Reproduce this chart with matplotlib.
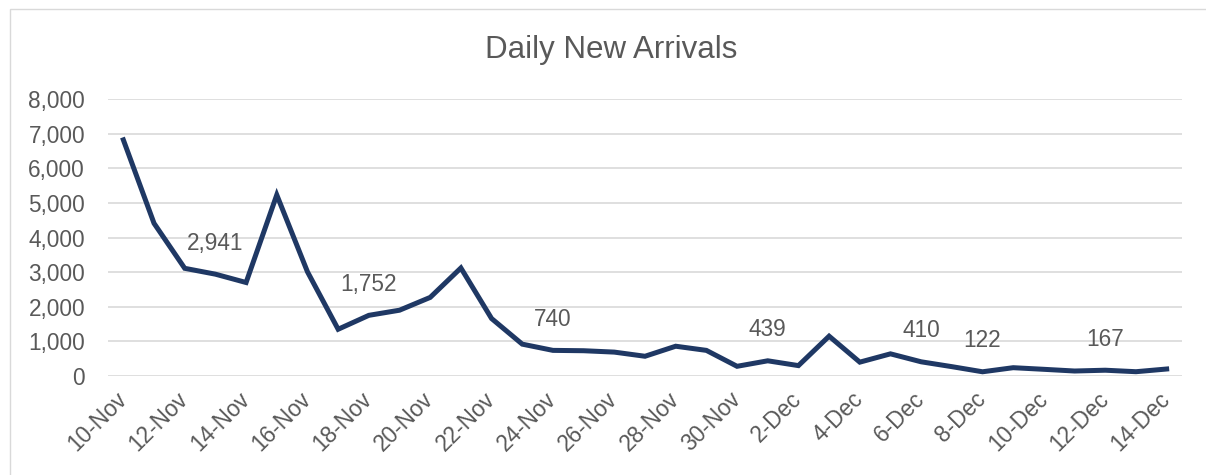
import matplotlib
matplotlib.use("Agg")
import matplotlib.pyplot as plt
import matplotlib.transforms as mtransforms
from matplotlib.patches import Rectangle
from matplotlib.ticker import FuncFormatter

plt.rcParams['font.family'] = ['Liberation Sans', 'DejaVu Sans']

# daily values, 10-Nov .. 14-Dec
dates = ["10-Nov", "11-Nov", "12-Nov", "13-Nov", "14-Nov", "15-Nov", "16-Nov",
         "17-Nov", "18-Nov", "19-Nov", "20-Nov", "21-Nov", "22-Nov", "23-Nov",
         "24-Nov", "25-Nov", "26-Nov", "27-Nov", "28-Nov", "29-Nov", "30-Nov",
         "1-Dec", "2-Dec", "3-Dec", "4-Dec", "5-Dec", "6-Dec", "7-Dec",
         "8-Dec", "9-Dec", "10-Dec", "11-Dec", "12-Dec", "13-Dec", "14-Dec"]
arrivals = [6820, 4410, 3110, 2941, 2700, 5230, 3010,
            1350, 1752, 1900, 2270, 3120, 1660, 920,
            740, 730, 690, 570, 860, 740, 280,
            439, 300, 1150, 400, 640, 410, 270,
            122, 240, 193, 144, 167, 124, 202]
labelled = ["13-Nov", "18-Nov", "24-Nov", "1-Dec", "6-Dec", "8-Dec", "12-Dec"]

grey = "#595959"
navy = "#1F3864"

fig = plt.figure(figsize=(12.06, 4.75), dpi=100)
ax = fig.add_axes([108/1206, 1 - 376/475, (1182 - 108)/1206, (376 - 99)/475])

x = list(range(len(dates)))
ax.plot(x, arrivals, color=navy, lw=3.6, solid_joinstyle='miter', zorder=3)

for d in labelled:
    i = dates.index(d)
    ax.annotate(f"{arrivals[i]:,}", xy=(i, arrivals[i]), xytext=(0, 31),
                textcoords='offset pixels', ha='center', va='center',
                fontsize=16.3, color=grey)

ax.set_xlim(-0.5, len(dates) - 0.5)
ax.set_ylim(0, 8000)
ax.set_yticks(range(0, 8001, 1000))
ax.yaxis.set_major_formatter(FuncFormatter(lambda v, p: f"{int(v):,}"))
ax.set_xticks(x[::2])
ax.set_xticklabels(dates[::2], rotation=45, ha='right', va='center',
                   rotation_mode='anchor')
# nudge the slanted labels a little right and down
shift = mtransforms.ScaledTranslation(4/100, -2/100, fig.dpi_scale_trans)
for lab in ax.get_xticklabels():
    lab.set_transform(lab.get_transform() + shift)

ax.grid(axis='y', color='#D9D9D9', lw=1.2)
ax.set_axisbelow(True)
for s in ax.spines.values():
    s.set_visible(False)
ax.tick_params(axis='both', length=0, labelsize=16.3, labelcolor=grey)
ax.tick_params(axis='y', pad=16.5)
ax.tick_params(axis='x', pad=14)

fig.text(611/1206, 1 - 57.7/475, "Daily New Arrivals", ha='center',
         va='baseline', fontsize=22.5, color=grey)

# chart area border
fig.patches.append(Rectangle((10/1206, -0.1), 1.2, 1.1 - 9/475,
                             transform=fig.transFigure, fill=False,
                             edgecolor='#D9D9D9', lw=1))

fig.savefig("out.png", dpi=100)
